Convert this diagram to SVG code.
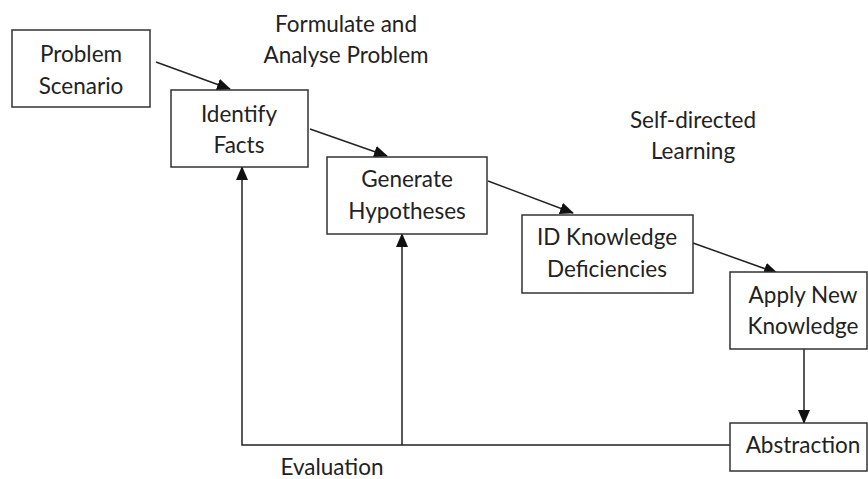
<svg xmlns="http://www.w3.org/2000/svg" width="868" height="479" viewBox="0 0 868 479">
<style>
  .box { fill: #fff; stroke: #333; stroke-width: 1.5; }
  .lbl { font-family: Lato, "Open Sans", sans-serif; font-size: 22.5px; fill: #222; text-anchor: middle; }
  .con { fill: none; stroke: #222; stroke-width: 1.5; }
</style>
<defs>
  <marker id="ah" markerUnits="userSpaceOnUse" markerWidth="14" markerHeight="12" refX="13" refY="6" orient="auto">
    <path d="M0,0 L14,6 L0,12 Z" fill="#111"/>
  </marker>
</defs>
<rect width="868" height="479" fill="#fff"/>
<g id="connectors">
  <line class="con" x1="156" y1="62" x2="230" y2="89" marker-end="url(#ah)"/>
  <line class="con" x1="310" y1="129" x2="387" y2="156" marker-end="url(#ah)"/>
  <line class="con" x1="488" y1="181" x2="573" y2="213" marker-end="url(#ah)"/>
  <line class="con" x1="693" y1="243" x2="777" y2="273" marker-end="url(#ah)"/>
  <line class="con" x1="804" y1="349" x2="804" y2="423" marker-end="url(#ah)"/>
  <polyline class="con" points="730,445 242,445 242,167" marker-end="url(#ah)"/>
  <line class="con" x1="402" y1="445" x2="402" y2="234" marker-end="url(#ah)"/>
</g>
<g id="problem-scenario">
  <rect class="box" x="12" y="30" width="138" height="77"/>
  <text class="lbl" x="81" y="62">Problem</text>
  <text class="lbl" x="81" y="94">Scenario</text>
</g>
<g id="identify-facts">
  <rect class="box" x="171" y="90" width="137" height="77"/>
  <text class="lbl" x="239" y="122">Identify</text>
  <text class="lbl" x="239" y="153">Facts</text>
</g>
<g id="generate-hypotheses">
  <rect class="box" x="327" y="157" width="160" height="77"/>
  <text class="lbl" x="407" y="187">Generate</text>
  <text class="lbl" x="407" y="219">Hypotheses</text>
</g>
<g id="id-knowledge">
  <rect class="box" x="522" y="215" width="171" height="78"/>
  <text class="lbl" x="607" y="245">ID Knowledge</text>
  <text class="lbl" x="607" y="277">Deficiencies</text>
</g>
<g id="apply-new-knowledge">
  <rect class="box" x="730" y="272" width="137" height="77"/>
  <text class="lbl" x="803" y="303">Apply New</text>
  <text class="lbl" x="803" y="334">Knowledge</text>
</g>
<g id="abstraction">
  <rect class="box" x="730" y="423" width="137" height="48"/>
  <text class="lbl" x="803" y="453">Abstraction</text>
</g>
<g id="labels">
  <text class="lbl" x="346" y="32">Formulate and</text>
  <text class="lbl" x="346" y="63">Analyse Problem</text>
  <text class="lbl" x="693" y="128">Self-directed</text>
  <text class="lbl" x="693" y="159">Learning</text>
  <text class="lbl" x="332" y="475">Evaluation</text>
</g>
</svg>
